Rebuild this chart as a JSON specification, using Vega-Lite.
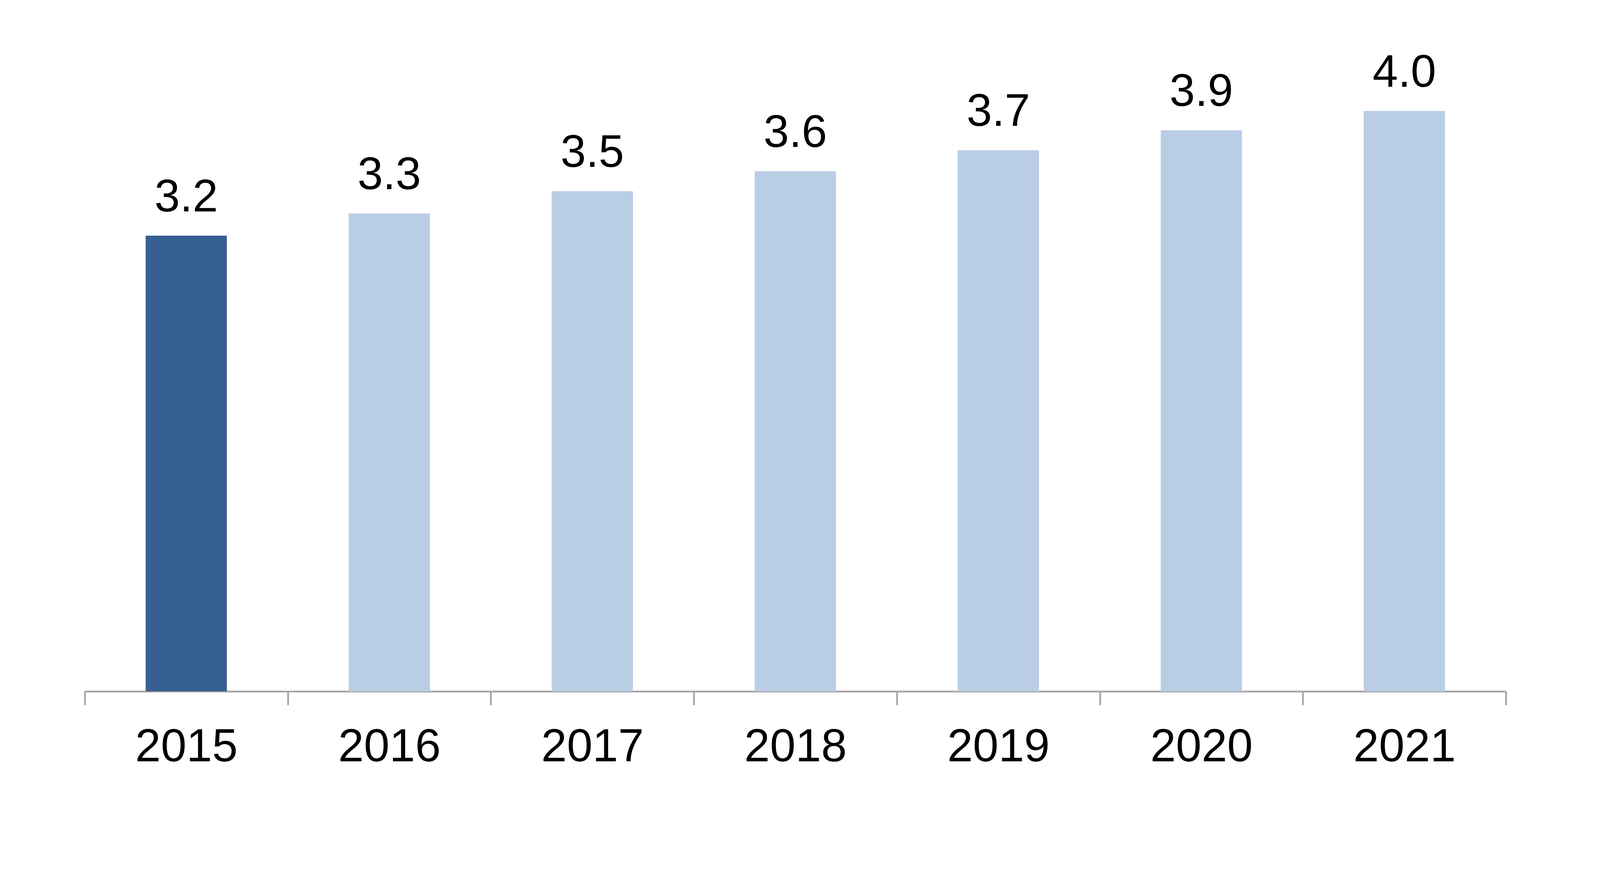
{
  "$schema": "https://vega.github.io/schema/vega-lite/v6.json",
  "width": 3638,
  "height": 1664,
  "autosize": {"type": "none"},
  "padding": {"left": 217, "top": 105, "right": 397, "bottom": 475},
  "background": "white",
  "config": {"view": {"stroke": null}},
  "data": {
    "values": [
      {"year": "2015", "value": 3.153, "group": "base"},
      {"year": "2016", "value": 3.307, "group": "other"},
      {"year": "2017", "value": 3.461, "group": "other"},
      {"year": "2018", "value": 3.599, "group": "other"},
      {"year": "2019", "value": 3.745, "group": "other"},
      {"year": "2020", "value": 3.883, "group": "other"},
      {"year": "2021", "value": 4.016, "group": "other"}
    ]
  },
  "encoding": {
    "x": {
      "field": "year",
      "type": "nominal",
      "sort": null,
      "scale": {"paddingInner": 0, "paddingOuter": 0},
      "axis": {
        "title": null,
        "labelAngle": 0,
        "labelFont": "Liberation Sans",
        "labelFontSize": 118,
        "labelColor": "#000000",
        "labelPadding": 143,
        "labelLimit": 0,
        "labelBaseline": "alphabetic",
        "domainColor": "#A6A6A6",
        "domainWidth": 4.5,
        "tickColor": "#A6A6A6",
        "tickWidth": 4.5,
        "tickSize": 35,
        "tickBand": "extent",
        "grid": false
      }
    }
  },
  "layer": [
    {
      "mark": {"type": "bar", "width": {"band": 0.4}},
      "encoding": {
        "y": {"field": "value", "type": "quantitative", "scale": {"domain": [0, 4.5]}, "axis": null},
        "color": {
          "field": "group",
          "type": "nominal",
          "scale": {"domain": ["base", "other"], "range": ["#376092", "#B9CDE5"]},
          "legend": null
        }
      }
    },
    {
      "mark": {"type": "text", "baseline": "alphabetic", "dy": -62, "fontSize": 117, "font": "Liberation Sans", "color": "#000000"},
      "encoding": {
        "y": {"field": "value", "type": "quantitative"},
        "text": {"field": "value", "type": "quantitative", "format": ".1f"}
      }
    }
  ]
}
